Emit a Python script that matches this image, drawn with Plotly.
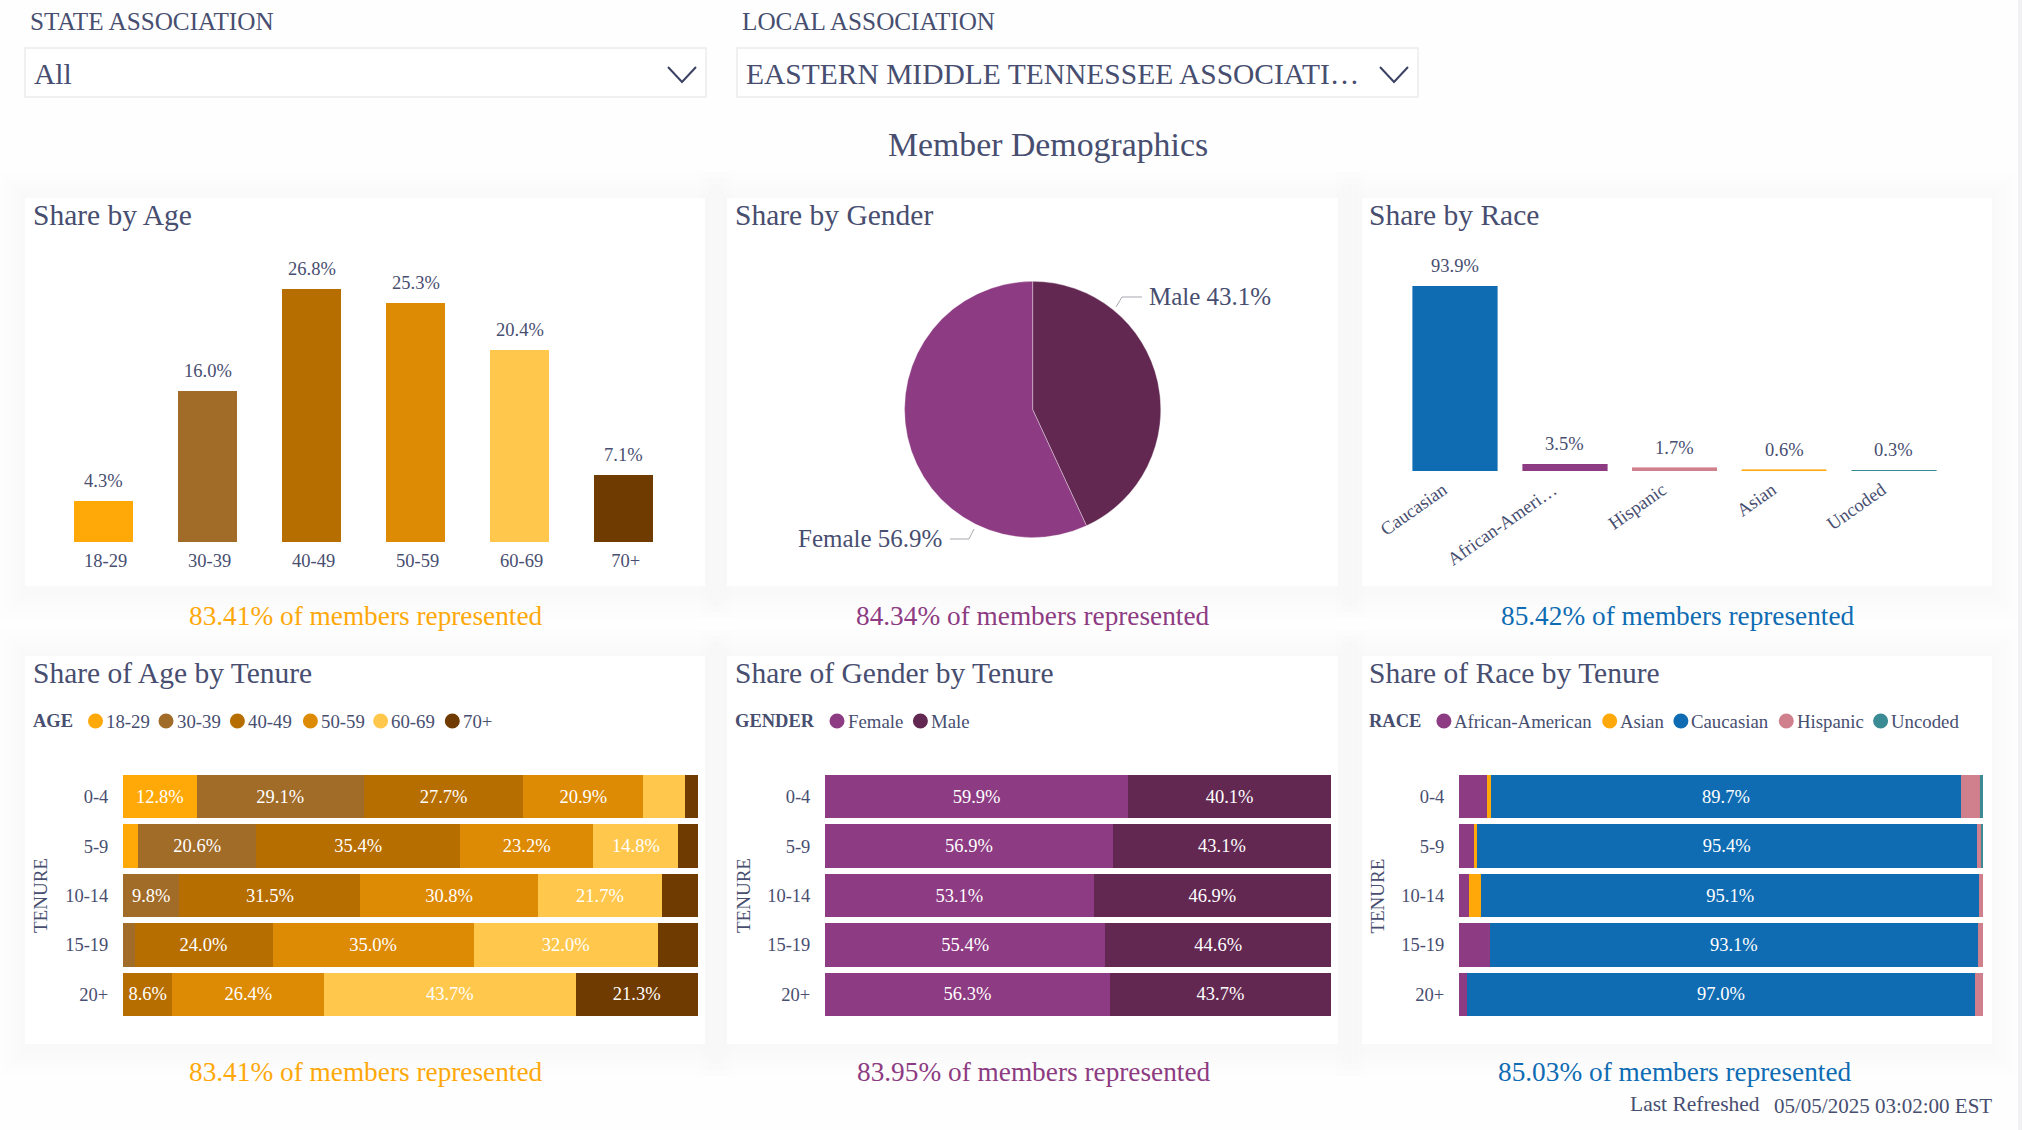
import plotly.graph_objects as go

# ---- data ----
age_groups = ["18-29", "30-39", "40-49", "50-59", "60-69", "70+"]
age_share = [4.3, 16.0, 26.8, 25.3, 20.4, 7.1]
age_colors = ["#FFA908", "#A16B28", "#B76E00", "#DD8A04", "#FFC84D", "#6F3B00"]

gender_groups = ["Male", "Female"]
gender_share = [43.1, 56.9]
gender_colors = ["#632852", "#8D3B82"]

race_order = ["Caucasian", "African-American", "Hispanic", "Asian", "Uncoded"]
race_ticks = ["Caucasian", "African-Ameri…", "Hispanic", "Asian", "Uncoded"]
race_share = [93.9, 3.5, 1.7, 0.6, 0.3]
race_order_colors = ["#0F6CB3", "#8D3B82", "#D07F8C", "#FFA80A", "#3A8B93"]

tenure = ["0-4", "5-9", "10-14", "15-19", "20+"]

age_by_tenure = {
    "18-29": [12.8, 2.6, 0, 0, 0],
    "30-39": [29.1, 20.6, 9.8, 2.0, 0],
    "40-49": [27.7, 35.4, 31.5, 24.0, 8.6],
    "50-59": [20.9, 23.2, 30.8, 35.0, 26.4],
    "60-69": [7.3, 14.8, 21.7, 32.0, 43.7],
    "70+": [2.2, 3.4, 6.2, 7.0, 21.3],
}
gender_by_tenure = {
    "Female": [59.9, 56.9, 53.1, 55.4, 56.3],
    "Male": [40.1, 43.1, 46.9, 44.6, 43.7],
}
race_by_tenure = {
    "African-American": [5.4, 2.8, 2.0, 5.9, 1.5],
    "Asian": [0.7, 0.6, 2.2, 0, 0],
    "Caucasian": [89.7, 95.4, 95.1, 93.1, 97.0],
    "Hispanic": [3.6, 1.0, 0.7, 1.0, 1.5],
    "Uncoded": [0.6, 0.2, 0, 0, 0],
}
race_colors = {
    "African-American": "#8D3B82",
    "Asian": "#FFA80A",
    "Caucasian": "#0F6CB3",
    "Hispanic": "#D07F8C",
    "Uncoded": "#3A8B93",
}

W, H = 2022, 1130
INK = "#474E70"
SERIF = "Liberation Serif"


def px(x):
    return x / W


def py(y):
    return 1 - y / H


def text(x, y, s, size, color=INK, anchor="left", **kw):
    return dict(
        xref="paper", yref="paper", x=px(x), y=py(y), text=s, showarrow=False,
        xanchor=anchor, yanchor="middle", font=dict(family=SERIF, size=size, color=color),
        borderpad=0, borderwidth=0, **kw,
    )


def rect(x0, y0, x1, y1, fill, line=None, opacity=1.0):
    return dict(
        type="rect", xref="paper", yref="paper", layer="below",
        x0=px(x0), x1=px(x1), y0=py(y0), y1=py(y1), fillcolor=fill, opacity=opacity,
        line=dict(color=line or "rgba(0,0,0,0)", width=1.5 if line else 0),
    )


def polyline(points, color, width):
    path = "M " + " L ".join(f"{px(x)} {py(y)}" for x, y in points)
    return dict(type="path", xref="paper", yref="paper", path=path, line=dict(color=color, width=width))


def circle(cx, cy, r, color):
    return dict(
        type="circle", xref="paper", yref="paper", x0=px(cx - r), x1=px(cx + r),
        y0=py(cy - r), y1=py(cy + r), fillcolor=color, line=dict(width=0),
    )


fig = go.Figure()
shapes = []
annotations = []

# cards with a soft shadow
cards = [
    (25, 198, 705, 586), (727, 198, 1338, 586), (1362, 198, 1992, 586),
    (25, 656, 705, 1044), (727, 656, 1338, 1044), (1362, 656, 1992, 1044),
]
for x0, y0, x1, y1 in cards:
    for spread in (26, 20, 14, 8, 3):
        shapes.append(rect(x0 - spread, y0 - spread, x1 + spread, y1 + spread + 6, "#50506E", opacity=0.006))
for x0, y0, x1, y1 in cards:
    shapes.append(rect(x0, y0, x1, y1, "#FFFFFF"))

# slicers
for label, value, x0, x1 in [
    ("STATE ASSOCIATION", "All", 25, 706),
    ("LOCAL ASSOCIATION", "EASTERN MIDDLE TENNESSEE ASSOCIATI…", 737, 1418),
]:
    annotations.append(text(x0 + 5, 21, label, 25.2))
    annotations.append(text(x0 + 9, 74, value, 29.5))
    shapes.append(rect(x0, 48, x1, 97, "#FFFFFF", line="#ECECEE"))
    shapes.append(polyline([(x1 - 38, 67), (x1 - 24, 82), (x1 - 10, 67)], "#3B4263", 2))

annotations.append(text(1048, 145, "Member Demographics", 33.8, anchor="center"))

titles = [
    (32.5, 215, "Share by Age"), (734.5, 215, "Share by Gender"), (1369, 215, "Share by Race"),
    (32.5, 673, "Share of Age by Tenure"), (734.5, 673, "Share of Gender by Tenure"), (1369, 673, "Share of Race by Tenure"),
]
for x, y, s in titles:
    annotations.append(text(x, y, s, 29.5))

footers = [
    (365.5, 616, "83.41% of members represented", "#FFA80A"),
    (1033, 616, "84.34% of members represented", "#8D3B82"),
    (1678, 616, "85.42% of members represented", "#0F6CB3"),
    (365.5, 1072, "83.41% of members represented", "#FFA80A"),
    (1034, 1072, "83.95% of members represented", "#8D3B82"),
    (1675, 1072, "85.03% of members represented", "#0F6CB3"),
]
for x, y, s, c in footers:
    annotations.append(text(x, y, s, 27.3, color=c, anchor="center"))

annotations.append(text(1630, 1104, "Last Refreshed", 21.5))
annotations.append(text(1992, 1106, "05/05/2025 03:02:00 EST", 21, anchor="right"))


def axis_font():
    return dict(family=SERIF, size=18.5, color=INK)


def column_axes(n, x0, x1, y0, y1, ymax, angle=0, ticktext=None, cats=None, ticklen=3, shift=0):
    fig.update_layout(**{
        f"xaxis{n}": dict(
            domain=[px(x0), px(x1)], anchor=f"y{n}", type="category", categoryorder="array",
            categoryarray=cats, tickvals=cats, ticktext=ticktext or cats, tickangle=angle,
            showgrid=False, zeroline=False, showline=False, ticks="outside", ticklen=ticklen,
            tickcolor="rgba(0,0,0,0)", tickfont=axis_font(), automargin=False, ticklabelshift=shift,
        ),
        f"yaxis{n}": dict(
            domain=[py(y1), py(y0)], anchor=f"x{n}", range=[0, ymax], automargin=False,
            showgrid=False, zeroline=False, showline=False, showticklabels=False,
        ),
    })


# Share by Age
fig.add_trace(go.Bar(
    x=age_groups, y=age_share, width=0.565, marker=dict(color=age_colors, line_width=0),
    xaxis="x", yaxis="y", showlegend=False,
))
column_axes("", 51.7, 675.6, 259, 542, 30, cats=age_groups, shift=2, ticklen=2)
for g, v in zip(age_groups, age_share):
    annotations.append(dict(
        xref="x", yref="y", x=g, y=v, text=f"{v:.1f}%", showarrow=False, yshift=20,
        yanchor="middle", font=dict(family=SERIF, size=18.5, color=INK),
    ))

# Share by Race
fig.add_trace(go.Bar(
    x=race_order, y=race_share, width=0.77,
    marker=dict(color=race_order_colors, line=dict(color=race_order_colors, width=0.6)),
    xaxis="x2", yaxis="y2", showlegend=False,
))
column_axes(2, 1400.2, 1948.8, 274, 471, 100, angle=-35, ticktext=race_ticks, cats=race_order, ticklen=0, shift=-12)
for g, v in zip(race_order, race_share):
    annotations.append(dict(
        xref="x2", yref="y2", x=g, y=v, text=f"{v:.1f}%", showarrow=False, yshift=20,
        yanchor="middle", font=dict(family=SERIF, size=18.5, color=INK),
    ))

# Share by Gender
fig.add_trace(go.Pie(
    labels=gender_groups, values=gender_share, sort=False, direction="clockwise", rotation=0,
    marker=dict(colors=gender_colors, line=dict(color="rgba(255,255,255,0.35)", width=1)),
    textinfo="none", showlegend=False,
    domain=dict(x=[px(904.5), px(1160.8)], y=[py(538), py(281)]),
))
for g, v, x, y, anchor in [
    (gender_groups[0], gender_share[0], 1148.5, 296, "left"),
    (gender_groups[1], gender_share[1], 942, 538.5, "right"),
]:
    annotations.append(text(x, y, f"{g} {v}%", 25, anchor=anchor))
shapes.append(polyline([(1116, 307), (1122, 297), (1142, 297)], "#A9A9B0", 1))
shapes.append(polyline([(950, 539), (969, 539), (974, 529)], "#A9A9B0", 1))


# stacked tenure bars
def stacked(n, table, colors, x0, x1):
    for name, vals in table.items():
        fig.add_trace(go.Bar(
            y=tenure, x=vals, orientation="h", width=0.88, name=name,
            marker=dict(color=colors[name], line_width=0),
            text=[f"{v:.1f}%" if v >= 8 else "" for v in vals],
            textposition="inside", insidetextanchor="middle", textangle=0, constraintext="none",
            insidetextfont=dict(family=SERIF, size=18.5, color="#FFFFFF"),
            xaxis=f"x{n}", yaxis=f"y{n}", showlegend=False,
        ))
    fig.update_layout(**{
        f"xaxis{n}": dict(
            domain=[px(x0), px(x1)], anchor=f"y{n}", range=[0, 100], showgrid=False,
            zeroline=False, showline=False, showticklabels=False, automargin=False,
        ),
        f"yaxis{n}": dict(
            domain=[py(1019), py(772)], anchor=f"x{n}", type="category", categoryorder="array",
            categoryarray=tenure, range=[4.5, -0.5], showgrid=False, zeroline=False, showline=False,
            ticks="outside", ticklen=10, tickcolor="rgba(0,0,0,0)", tickfont=axis_font(), automargin=False,
        ),
    })


stacked(3, age_by_tenure, dict(zip(age_groups, age_colors)), 123, 698)
stacked(4, gender_by_tenure, dict(zip(["Male", "Female"], gender_colors)), 825, 1331)
stacked(5, race_by_tenure, race_colors, 1459, 1983)


# hand-placed legends, the report's spacing is tighter than a plotly legend allows
def legend_row(title, title_x, names, colors, centers):
    annotations.append(text(title_x, 721, f"<b>{title}</b>", 18.5))
    for name, color, cx in zip(names, colors, centers):
        shapes.append(circle(cx, 721, 7.5, color))
        annotations.append(text(cx + 10.5, 721, name, 18.8))


legend_row("AGE", 32.5, age_groups, age_colors, [95.5, 166, 237.4, 310.4, 380.6, 452.3])
legend_row("GENDER", 734.5, ["Female", "Male"], ["#8D3B82", "#632852"], [837, 920.4])
legend_row(
    "RACE", 1369.3, list(race_colors), list(race_colors.values()),
    [1443.9, 1609.7, 1680.9, 1786.3, 1880.6],
)

for x in (40, 743, 1376.6):
    annotations.append(text(x, 896, "TENURE", 19, anchor="center", textangle=-90))

# scrollbar gutter at the right edge of the page
shapes.append(rect(2018, 0, 2022, H, "#F1F1F3"))

fig.update_layout(
    width=W, height=H, margin=dict(l=0, r=0, t=0, b=0, pad=0),
    paper_bgcolor="#FEFEFE", plot_bgcolor="rgba(0,0,0,0)",
    barmode="stack", shapes=shapes, annotations=annotations,
    font=dict(family=SERIF, color=INK),
)

fig.write_html(
    "out.html",
    config={"displayModeBar": False},
    post_script="document.body.style.margin='0';document.body.style.overflow='hidden';",
)
